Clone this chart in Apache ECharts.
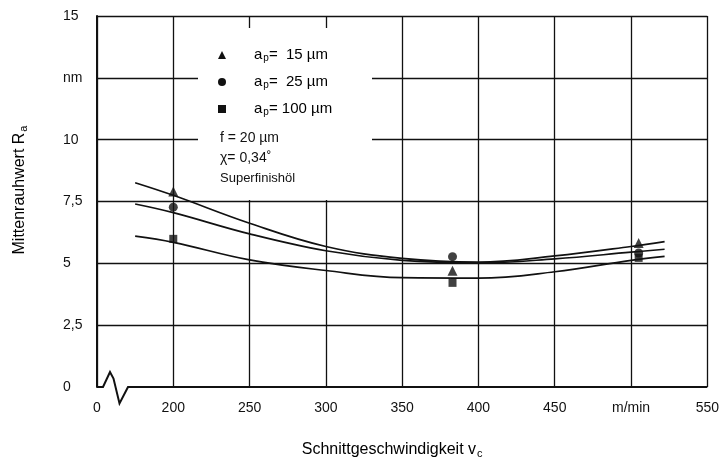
<!DOCTYPE html>
<html>
<head>
<meta charset="utf-8">
<script src="https://cdn.jsdelivr.net/npm/echarts@6/dist/echarts.min.js"></script>
<style>
  html, body { margin: 0; padding: 0; background: #fff; }
  #main { width: 722px; height: 471px; }
</style>
</head>
<body>
<div id="main"></div>
<script>
// tick values and labels
const xTicks = [150, 200, 250, 300, 350, 400, 450, 500, 550]
const xTickLabels = ['0', '200', '250', '300', '350', '400', '450', 'm/min', '550']
const yTicks = [0, 2.5, 5, 7.5, 10, 12.5, 15]
const yTickLabels = ['0', '2,5', '5', '7,5', '10', 'nm', '15']

// measured points (a_p = 15, 25, 100 µm)
const markerX = [200, 383, 505]
const ra15 = [7.9, 4.7, 5.82]
const ra25 = [7.27, 5.27, 5.42]
const ra100 = [5.99, 4.21, 5.22]

// fitted curves
const curveX = [175, 200, 250, 300, 350, 400, 450, 500, 522]
const fit15 = [8.26, 7.75, 6.62, 5.68, 5.2, 5.05, 5.3, 5.68, 5.88]
const fit25 = [7.4, 7.05, 6.19, 5.51, 5.12, 5.02, 5.18, 5.45, 5.57]
const fit100 = [6.1, 5.85, 5.14, 4.71, 4.42, 4.4, 4.66, 5.12, 5.28]

const ink = '#111'
const font = 'Liberation Sans, Arial, sans-serif'

function pairs(xs, ys) {
  return xs.map((x, i) => [x, ys[i]])
}

function curve(ys) {
  return {
    type: 'line',
    data: pairs(curveX, ys),
    smooth: 0.4,
    showSymbol: false,
    silent: true,
    lineStyle: { color: ink, width: 1.7 },
    z: 3
  }
}

function marks(ys, symbol, size) {
  return {
    type: 'scatter',
    data: pairs(markerX, ys),
    symbol: symbol,
    symbolSize: size,
    itemStyle: { color: ink },
    z: 4
  }
}

var myChart = echarts.init(document.getElementById('main'))

myChart.setOption({
  animation: false,
  backgroundColor: '#fff',
  grid: { left: 97, right: 12, top: 16, bottom: 84 },
  xAxis: {
    type: 'value',
    min: xTicks[0],
    max: xTicks[xTicks.length - 1],
    interval: 50,
    axisLine: { show: false },
    axisTick: { show: false },
    axisLabel: {
      margin: 14,
      color: ink,
      fontFamily: font,
      fontSize: 14,
      formatter: v => xTickLabels[xTicks.indexOf(v)]
    },
    splitLine: { show: true, lineStyle: { color: ink, width: 1.3 } }
  },
  yAxis: {
    type: 'value',
    min: 0,
    max: 15,
    interval: 2.5,
    axisLine: { show: true, lineStyle: { color: ink, width: 2 } },
    axisTick: { show: false },
    axisLabel: {
      margin: 34,
      align: 'left',
      color: ink,
      fontFamily: font,
      fontSize: 14,
      formatter: v => yTickLabels[yTicks.indexOf(v)]
    },
    splitLine: { show: true, showMinLine: false, lineStyle: { color: ink, width: 1.3 } }
  },
  series: [
    curve(fit15),
    curve(fit25),
    curve(fit100),
    marks(ra15, 'triangle', 10),
    marks(ra25, 'circle', 9),
    marks(ra100, 'rect', 8)
  ]
})

// bottom axis line with the break, legend box and axis titles
const p0 = myChart.convertToPixel({ gridIndex: 0 }, [xTicks[0], 0])
const p1 = myChart.convertToPixel({ gridIndex: 0 }, [xTicks[xTicks.length - 1], 0])
const x0 = p0[0], y0 = p0[1]
const zig = [[0, 0], [6, 0], [13, -15], [16.5, -8.5], [22.5, 16.5], [31, 0]]

const txt = { fontFamily: font, fontSize: 14, fill: ink }
const rich = {
  t: { fontFamily: font, fontSize: 15, color: ink },
  s: { fontFamily: font, fontSize: 10, color: ink, padding: [7, 0, 0, 1] }
}
const rich2 = {
  t: { fontFamily: font, fontSize: 16, color: ink },
  s: { fontFamily: font, fontSize: 11, color: ink, padding: [8, 0, 0, 1] }
}

function legendRow(y, label, icon) {
  return [
    icon,
    {
      type: 'text', x: 254, y: y, z: 5,
      style: { text: '{t|a}{s|p}{t|= ' + label + '}', rich: rich, verticalAlign: 'middle' }
    }
  ]
}

myChart.setOption({
  graphic: [
    {
      type: 'polyline', z: 5,
      shape: { points: zig.map(p => [x0 + p[0], y0 + p[1]]).concat([[p1[0], y0]]) },
      style: { stroke: ink, lineWidth: 2, fill: null }
    },
    {
      type: 'rect', z: 1,
      shape: { x: 198, y: 28, width: 174, height: 172 },
      style: { fill: '#fff' }
    },
    ...legendRow(55, ' 15 µm', { type: 'polygon', z: 5, shape: { points: [[222, 51], [226, 59], [218, 59]] }, style: { fill: ink } }),
    ...legendRow(82, ' 25 µm', { type: 'circle', z: 5, shape: { cx: 222, cy: 82, r: 4 }, style: { fill: ink } }),
    ...legendRow(109, '100 µm', { type: 'rect', z: 5, shape: { x: 218, y: 105, width: 8, height: 8 }, style: { fill: ink } }),
    { type: 'text', x: 220, y: 138, z: 5, style: Object.assign({ text: 'f = 20 µm', verticalAlign: 'middle' }, txt) },
    { type: 'text', x: 220, y: 158, z: 5, style: Object.assign({ text: 'χ= 0,34˚', verticalAlign: 'middle' }, txt) },
    { type: 'text', x: 220, y: 178, z: 5, style: Object.assign({ text: 'Superfinishöl', verticalAlign: 'middle' }, txt, { fontSize: 13 }) },
    {
      type: 'text', x: 20, y: 190, rotation: Math.PI / 2, z: 5,
      style: { text: '{t|Mittenrauhwert R}{s|a}', rich: rich2, align: 'center', verticalAlign: 'middle' }
    },
    {
      type: 'text', x: (x0 + p1[0]) / 2 - 10, y: 450, z: 5,
      style: { text: '{t|Schnittgeschwindigkeit v}{s|c}', rich: rich2, align: 'center', verticalAlign: 'middle' }
    }
  ]
})
</script>
</body>
</html>
